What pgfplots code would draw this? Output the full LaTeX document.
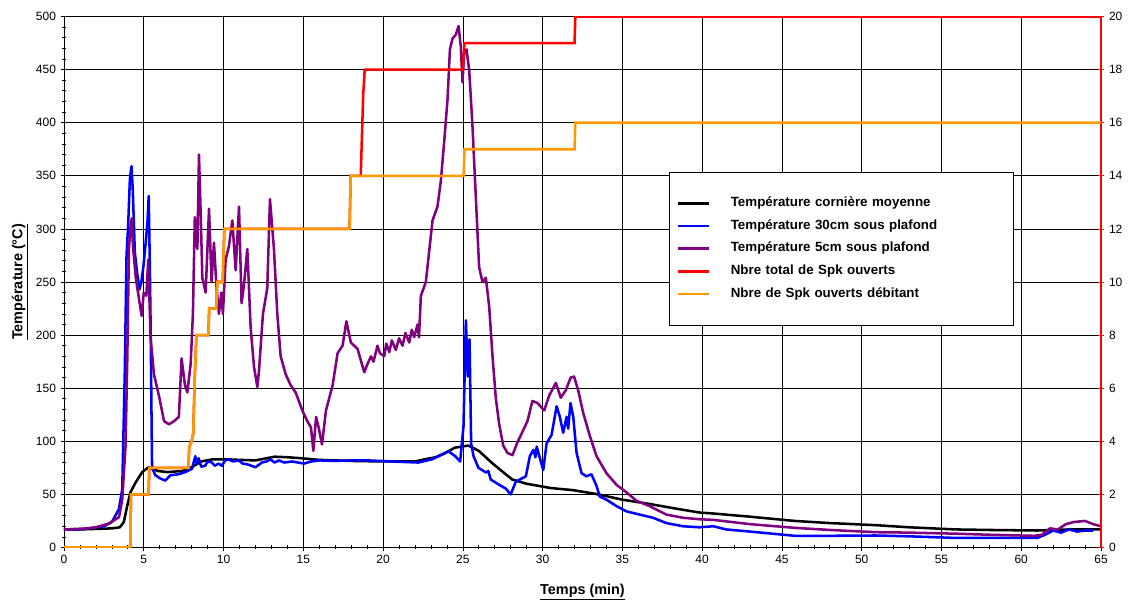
\documentclass[border=0pt]{standalone}
\usepackage{pgfplots}
\pgfplotsset{compat=1.18}
\usepackage{fontspec}
\setmainfont{Liberation Sans}

\definecolor{cBlack}{RGB}{0,0,0}
\definecolor{cBlue}{RGB}{0,0,255}
\definecolor{cPurple}{RGB}{128,0,128}
\definecolor{cRed}{RGB}{255,0,0}
\definecolor{cOrange}{RGB}{255,153,0}

\pgfplotsset{
  common/.style={
    scale only axis, width=777.75pt, height=398.25pt,
    xmin=0, xmax=65,
    /pgf/number format/assume math mode=true,
    ticklabel style={font=\fontsize{9}{10}\selectfont},
    tick align=center, major tick length=5pt, minor tick length=3pt,
  },
}

\begin{document}
\begin{tikzpicture}
% temperatures, left axis
\begin{axis}[
  common,
  ymin=0, ymax=500,
  xtick={0,5,...,65}, ytick={0,50,...,500},
  minor x tick num=4, minor y tick num=4,
  axis x line*=bottom, axis y line*=left,
  axis line style={black, line width=0.6pt, -},
  tick style={black, line width=0.5pt},
  grid=major, major grid style={black, line width=0.5pt},
  xlabel={\underline{\textbf{Temps (min)}}},
  ylabel={\underline{\textbf{Température (°C)}}},
  label style={font=\fontsize{10.8}{12}\selectfont},
  xlabel style={yshift=-8pt},
  ylabel style={yshift=-1pt},
  every axis plot/.append style={line width=1.9pt, line join=round},
]
\addplot[cBlack] coordinates {
(0,17)(1,17)(2,17.5)(3,18)(3.5,19)(3.75,24)(3.96,39)(4.17,52)(4.48,61)(4.9,71)
(5.3,75.5)(5.9,72)(6.5,71)(7.4,72)(8.0,75.5)(8.6,81)(9.3,83)(10.3,83)(11,82.5)
(12,82)(13.2,85.5)(14,85)(14.9,84)(16,82.5)(18,81.5)(20,81)(22,81)(22.6,83)
(23.3,85)(23.9,89)(24.5,94)(25.35,96)(26.0,91)(26.8,80)(27.6,70)(28.1,64)(29,60)
(30.5,56)(31.9,54)(33.5,50)(35.0,45)(36.7,41)(38.2,37)(39.8,33)(40.7,32)(43,29)
(45.8,25)(48,23)(50.9,21)(53,19)(55.9,17)(58,16.5)(61,16)(62,16.5)(63,17)(65,17)
};
\addplot[cBlue] coordinates {
(0,17)(1,17)(2,19)(2.5,20)(3.0,24)(3.44,36)(3.65,55)(3.81,165)(3.92,275)(4.02,303)
(4.13,347)(4.23,359)(4.31,337)(4.44,278)(4.58,259)(4.73,243)(4.85,250)(4.98,265)
(5.1,284)(5.23,306)(5.31,331)(5.38,265)(5.44,196)(5.48,133)(5.52,75)(5.73,68)
(6.04,65)(6.35,63)(6.67,68)(7.19,69)(7.6,71)(8.02,74)(8.23,86)(8.3,80)(8.44,84)
(8.6,76)(8.85,77)(9.0,81)(9.27,80)(9.45,77)(9.69,79)(9.9,77)(10.1,82)(10.3,83)
(10.6,81)(10.95,82)(11.2,79)(11.57,78)(12.0,75.5)(12.4,80)(12.7,81)(12.94,83)
(13.2,80)(13.47,82)(13.8,80)(14.3,81)(15.04,79)(15.5,81)(16,82)(17,81.5)(18,82)
(19.1,82)(20.5,81)(22.2,80)(23.06,83)(23.7,87.5)(24.1,90.6)(24.52,86)(24.83,81)
(25.04,114)(25.19,214)(25.31,161)(25.42,196)(25.52,98)(25.67,86)(25.98,75)
(26.2,73)(26.44,70.6)(26.6,72)(26.75,64)(27.28,59)(27.69,55.5)(28.0,50)(28.32,62)
(28.95,67)(29.2,86)(29.42,92)(29.55,85)(29.63,95)(29.83,84)(30.04,73)(30.25,98)
(30.56,106)(30.88,133)(31.08,123)(31.29,108)(31.5,123)(31.6,112)(31.75,136)
(31.92,123)(32.13,89)(32.44,70)(32.75,67)(33.06,69)(33.38,58)(33.58,48)(34.0,45)
(34.63,39)(35.25,34)(36.08,31)(36.92,28)(37.75,23)(38.8,20)(39.83,19)(40.7,20)
(41.5,17)(43,15)(45.8,11)(48,11)(50.9,11.3)(53,10.5)(55.9,9)(58,9)(61,9)(61.5,12)
(62,16)(62.5,14)(63,17)(63.5,15)(64,16)(64.5,16)
};
\addplot[cPurple] coordinates {
(0,17)(1.5,18)(2.0,19)(2.8,22.5)(3.45,28.6)(3.65,45)(3.86,96)(3.97,180)(4.07,281)
(4.18,304)(4.25,310)(4.32,284)(4.5,254)(4.7,234)(4.87,218)(5.0,240)(5.16,237)
(5.28,271)(5.43,197)(5.64,163)(5.95,143)(6.27,119)(6.58,116)(6.9,119)(7.2,123)
(7.37,178)(7.58,153)(7.73,146)(7.94,173)(8.08,220)(8.2,311)(8.36,281)(8.46,370)
(8.57,314)(8.67,254)(8.88,240)(9.09,319)(9.25,250)(9.4,287)(9.55,247)(9.71,220)
(9.86,240)(9.96,220)(10.13,271)(10.34,284)(10.55,308)(10.76,261)(10.97,321)
(11.13,230)(11.28,247)(11.49,281)(11.7,207)(11.91,170)(12.12,151)(12.22,166)
(12.47,220)(12.74,244)(12.91,328)(13.16,281)(13.37,220)(13.58,180)(13.9,163)
(14.2,153)(14.52,146)(14.94,129)(15.25,119)(15.48,113)(15.63,91)(15.8,123)
(15.96,113)(16.17,97)(16.42,129)(16.84,153)(17.15,183)(17.46,190)(17.7,213)
(17.98,193)(18.4,187)(18.82,165)(19.0,172)(19.24,180)(19.4,175)(19.65,190)
(19.8,183)(20.07,180)(20.2,192)(20.39,184)(20.55,195)(20.8,186)(21.0,197)
(21.22,190)(21.4,202)(21.64,193)(21.8,205)(21.95,198)(22.16,210)(22.25,198)
(22.37,237)(22.68,250)(23.1,308)(23.41,321)(23.62,345)(23.83,382)(24.04,422)
(24.19,469)(24.35,479)(24.56,483)(24.73,491)(24.87,472)(24.98,438)(25.08,466)
(25.23,469)(25.4,449)(25.6,398)(25.81,331)(26.02,264)(26.23,250)(26.44,254)
(26.65,227)(26.86,180)(27.07,140)(27.28,116)(27.53,96)(27.8,89)(28.11,87)(28.42,99)
(28.74,109)(29.05,119)(29.36,138)(29.68,136)(30.1,129)(30.41,143)(30.83,155)
(31.14,141)(31.45,148)(31.76,160)(31.97,161)(32.23,148)(32.54,127)(32.96,105)
(33.38,86)(34.0,70)(34.63,59)(35.25,52)(35.88,44)(36.7,39)(37.75,31)(38.8,28)
(39.83,26.6)(40.7,26)(43,22)(45.8,18.5)(48,16.5)(50.9,14.4)(53,14)(55.9,13)(58,12)
(60.8,11)(61.3,12)(61.8,18)(62.3,17)(62.8,22)(63.3,24)(64,25)(64.5,22)(65,20)
};
\end{axis}
% sprinklers, right axis
\begin{axis}[
  common,
  ymin=0, ymax=20, ytick={0,2,...,20},
  axis x line=none, axis y line*=right,
  y axis line style={cRed, line width=0.8pt, -},
  ytick style={cRed, line width=0.5pt},
  every axis plot/.append style={line width=1.9pt},
  legend style={
    at={(0.583,0.708)}, anchor=north west,
    draw=black, fill=white, line width=0.6pt,
    inner xsep=6pt, inner ysep=17pt, row sep=4pt,
    font=\bfseries\fontsize{10}{11}\selectfont,
    nodes={text height=7pt, text depth=2pt, inner sep=2pt, text width=204pt},
    /tikz/every odd column/.append style={column sep=13.5pt},
  },
  legend cell align=left,
  legend image code/.code={\draw[#1, line width=1.9pt] (0pt,0pt) -- (23pt,0pt);},
]
\addlegendimage{cBlack}
\addlegendentry{Température cornière moyenne}
\addlegendimage{cBlue}
\addlegendentry{Température 30cm sous plafond}
\addlegendimage{cPurple}
\addlegendentry{Température 5cm sous plafond}
\addplot[cRed] coordinates {
(0,0)(4.15,0)(4.2,2)(5.3,2)(5.35,3)(7.8,3)(7.85,3.8)(8.0,4)(8.1,4.3)(8.2,6.5)(8.3,8)
(9.05,8)(9.1,9)(9.55,9)(9.6,10)(9.95,10)(10.05,12)(17.9,12)(17.97,14)(18.6,14)
(18.75,17)(18.85,18)(25.0,18)(25.1,19)(32.0,19)(32.05,20)(65,20)
};
\addlegendentry{Nbre total de Spk ouverts}
\addplot[cOrange] coordinates {
(0,0)(4.15,0)(4.2,2)(5.3,2)(5.35,3)(7.8,3)(7.85,3.8)(8.0,4)(8.1,4.3)(8.2,6.5)(8.3,8)
(9.05,8)(9.1,9)(9.55,9)(9.6,10)(9.95,10)(10.05,12)(17.9,12)(17.97,14)(25.05,14)
(25.1,15)(32.0,15)(32.05,16)(65,16)
};
\addlegendentry{Nbre de Spk ouverts débitant}
\end{axis}
\pgfresetboundingbox
\path[use as bounding box] ([shift={(-48pt,-40.125pt)}]current axis.south west)
  rectangle ([shift={(27.75pt,12.375pt)}]current axis.north east);
\end{tikzpicture}
\end{document}
